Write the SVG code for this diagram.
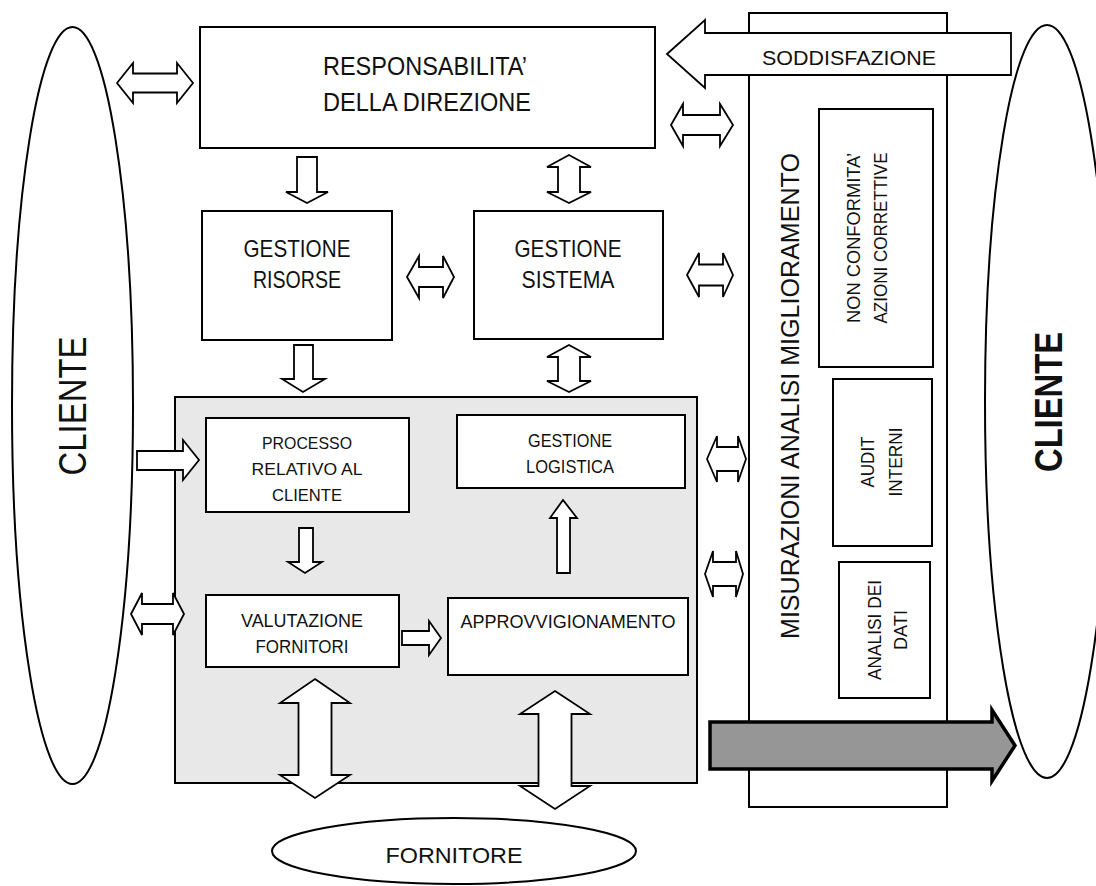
<svg xmlns="http://www.w3.org/2000/svg" width="1096" height="886" viewBox="0 0 1096 886">
<style>
.box{fill:#fff;stroke:#000;stroke-width:2}
.ell{fill:#fff;stroke:#000;stroke-width:2}
.arr{fill:#fff;stroke:#000;stroke-width:1.8;stroke-linejoin:miter}
.t{font-family:"Liberation Sans",Arial,sans-serif;fill:#111;text-anchor:middle}
</style>
<rect width="1096" height="886" fill="#fff"/>
<g id="cliente-left">
<ellipse class="ell" cx="72.5" cy="405.5" rx="60.5" ry="378.5"/>
<text class="t" font-size="38" textLength="139" lengthAdjust="spacingAndGlyphs" transform="translate(86,406) rotate(-90)">CLIENTE</text>
</g>
<g id="cliente-right">
<ellipse class="ell" cx="1047" cy="401.5" rx="62" ry="376.5"/>
<text class="t" font-size="39" font-weight="bold" textLength="140" lengthAdjust="spacingAndGlyphs" transform="translate(1062,402) rotate(-90)">CLIENTE</text>
</g>
<g id="responsabilita">
<rect class="box" x="200" y="27" width="455" height="121"/>
<text class="t" font-size="25" textLength="204" lengthAdjust="spacingAndGlyphs" x="425" y="75">RESPONSABILITA’</text>
<text class="t" font-size="25" textLength="208" lengthAdjust="spacingAndGlyphs" x="427" y="111">DELLA DIREZIONE</text>
</g>
<g id="misurazioni">
<rect class="box" x="749" y="13" width="198" height="794"/>
<text class="t" font-size="26" textLength="486" lengthAdjust="spacingAndGlyphs" transform="translate(799,396) rotate(-90)">MISURAZIONI ANALISI MIGLIORAMENTO</text>
</g>
<g id="non-conformita">
<rect class="box" x="819" y="109" width="114" height="258"/>
<text class="t" font-size="18" textLength="170" lengthAdjust="spacingAndGlyphs" transform="translate(860,238) rotate(-90)">NON CONFORMITA’</text>
<text class="t" font-size="18" textLength="171" lengthAdjust="spacingAndGlyphs" transform="translate(887,238) rotate(-90)">AZIONI CORRETTIVE</text>
</g>
<g id="audit">
<rect class="box" x="833" y="379" width="99" height="167"/>
<text class="t" font-size="18" textLength="51" lengthAdjust="spacingAndGlyphs" transform="translate(874,462) rotate(-90)">AUDIT</text>
<text class="t" font-size="18" textLength="69" lengthAdjust="spacingAndGlyphs" transform="translate(902,462) rotate(-90)">INTERNI</text>
</g>
<g id="analisi-dati">
<rect class="box" x="839" y="562" width="91" height="136"/>
<text class="t" font-size="18" textLength="100" lengthAdjust="spacingAndGlyphs" transform="translate(881,630) rotate(-90)">ANALISI DEI</text>
<text class="t" font-size="18" textLength="40" lengthAdjust="spacingAndGlyphs" transform="translate(907,630) rotate(-90)">DATI</text>
</g>
<g id="gestione-risorse">
<rect class="box" x="202" y="211" width="190" height="129"/>
<text class="t" font-size="24" textLength="107" lengthAdjust="spacingAndGlyphs" x="297" y="257">GESTIONE</text>
<text class="t" font-size="24" textLength="88" lengthAdjust="spacingAndGlyphs" x="297" y="288">RISORSE</text>
</g>
<g id="gestione-sistema">
<rect class="box" x="474" y="211" width="189" height="128"/>
<text class="t" font-size="24" textLength="107" lengthAdjust="spacingAndGlyphs" x="568" y="257">GESTIONE</text>
<text class="t" font-size="24" textLength="93" lengthAdjust="spacingAndGlyphs" x="568" y="288">SISTEMA</text>
</g>
<g id="processi">
<rect x="175" y="397" width="522" height="386" fill="#e8e8e8" stroke="#000" stroke-width="2"/>
</g>
<g id="processo-cliente">
<rect class="box" x="206" y="418" width="203" height="94"/>
<text class="t" font-size="17" textLength="90" lengthAdjust="spacingAndGlyphs" x="307" y="449">PROCESSO</text>
<text class="t" font-size="17" textLength="111" lengthAdjust="spacingAndGlyphs" x="307" y="475">RELATIVO AL</text>
<text class="t" font-size="17" textLength="70" lengthAdjust="spacingAndGlyphs" x="307" y="501">CLIENTE</text>
</g>
<g id="valutazione-fornitori">
<rect class="box" x="206" y="595" width="193" height="72"/>
<text class="t" font-size="19" textLength="122" lengthAdjust="spacingAndGlyphs" x="302" y="627">VALUTAZIONE</text>
<text class="t" font-size="19" textLength="93" lengthAdjust="spacingAndGlyphs" x="302" y="653">FORNITORI</text>
</g>
<g id="gestione-logistica">
<rect class="box" x="457" y="415" width="228" height="73"/>
<text class="t" font-size="17.5" textLength="84" lengthAdjust="spacingAndGlyphs" x="570" y="447">GESTIONE</text>
<text class="t" font-size="17.5" textLength="88" lengthAdjust="spacingAndGlyphs" x="570" y="473">LOGISTICA</text>
</g>
<g id="approvvigionamento">
<rect class="box" x="448" y="598" width="240" height="77"/>
<text class="t" font-size="17.5" textLength="215" lengthAdjust="spacingAndGlyphs" x="568" y="628">APPROVVIGIONAMENTO</text>
</g>
<g id="fornitore">
<ellipse class="ell" cx="454" cy="851" rx="182" ry="33"/>
<text class="t" font-size="22" textLength="137" lengthAdjust="spacingAndGlyphs" x="454" y="863">FORNITORE</text>
</g>
<g id="connectors">
<path class="arr" d="M117,83 L133,63 L133,73.5 L177,73.5 L177,63 L193,83 L177,103 L177,92.5 L133,92.5 L133,103 Z"/>
<path class="arr" d="M671,125 L683,104 L683,115 L720,115 L720,104 L733,125 L720,146 L720,135 L683,135 L683,146 Z"/>
<path class="arr" d="M407,277 L419,256 L419,267 L443,267 L443,256 L454,277 L443,298 L443,287 L419,287 L419,298 Z"/>
<path class="arr" d="M687,275 L699,253 L699,264.5 L723,264.5 L723,253 L733,275 L723,297 L723,285.5 L699,285.5 L699,297 Z"/>
<path class="arr" d="M707,459 L717,436 L717,447 L738,447 L738,436 L746,459 L738,482 L738,471 L717,471 L717,482 Z"/>
<path class="arr" d="M705,574 L713,551 L713,562 L736,562 L736,551 L743,574 L736,597 L736,586 L713,586 L713,597 Z"/>
<path class="arr" d="M131,614 L142,593 L142,604 L173,604 L173,593 L184,614 L173,635 L173,624 L142,624 L142,635 Z"/>
<path class="arr" d="M569,155 L591,167 L580,167 L580,192 L591,192 L569,203 L547,192 L558,192 L558,167 L547,167 Z"/>
<path class="arr" d="M569,345 L591,357 L580,357 L580,381 L591,381 L569,392 L547,381 L558,381 L558,357 L547,357 Z"/>
<path class="arr" d="M315,679 L350,703 L331.5,703 L331.5,775 L350,775 L315,798 L280,775 L298.5,775 L298.5,703 L280,703 Z"/>
<path class="arr" d="M555,691 L590,714 L571.5,714 L571.5,786 L590,786 L555,809 L520,786 L538.5,786 L538.5,714 L520,714 Z"/>
<path class="arr" d="M297,157 L317,157 L317,192 L328,192 L307,203 L286,192 L297,192 Z"/>
<path class="arr" d="M294,345 L313,345 L313,379 L325,379 L303,392 L282,379 L294,379 Z"/>
<path class="arr" d="M299,528 L313,528 L313,562 L322,562 L305,573 L288,562 L299,562 Z"/>
<path class="arr" d="M137,451 L183,451 L183,440 L199,460 L183,480 L183,470 L137,470 Z"/>
<path class="arr" d="M402,631 L429,631 L429,621 L441,638 L429,655 L429,645 L402,645 Z"/>
<path class="arr" d="M557,573 L570,573 L570,518 L577,518 L563,500 L550,518 L557,518 Z"/>
<g id="soddisfazione">
<path class="arr" d="M667,54 L705,20 L705,33 L1011,33 L1011,75 L705,75 L705,88 Z"/>
<text class="t" font-size="21" textLength="174" lengthAdjust="spacingAndGlyphs" x="849" y="65">SODDISFAZIONE</text>
</g>
<path d="M710,722 L992,722 L992,710 L1015,745.5 L992,781 L992,769 L710,769 Z" fill="#969696" stroke="#000" stroke-width="3.5" stroke-linejoin="miter"/>
</g>
</svg>
